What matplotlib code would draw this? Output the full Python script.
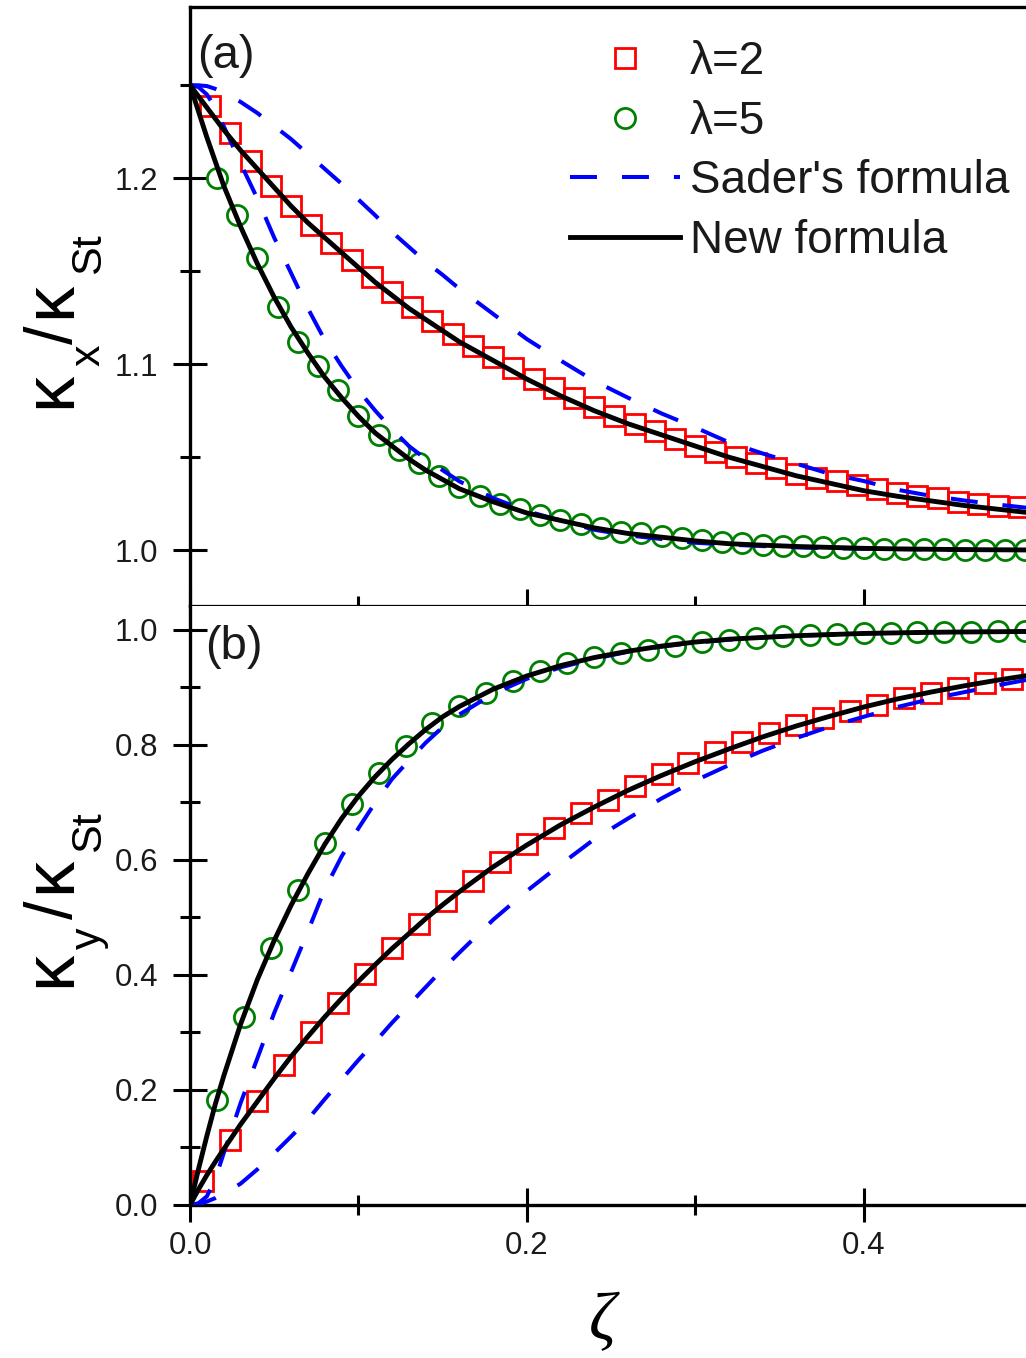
import matplotlib
matplotlib.use('Agg')
import matplotlib.pyplot as plt
from matplotlib.ticker import MultipleLocator

plt.rcParams['font.family'] = ['Liberation Sans', 'DejaVu Sans']

# ---------------- data: panel (a) kx/kSt ----------------
a_l2_zeta = [0.012, 0.024, 0.036, 0.048, 0.060, 0.072, 0.084, 0.096, 0.108, 0.120,
             0.132, 0.144, 0.156, 0.168, 0.180, 0.192, 0.204, 0.216, 0.228, 0.240,
             0.252, 0.264, 0.276, 0.288, 0.300, 0.312, 0.324, 0.336, 0.348, 0.360,
             0.372, 0.384, 0.396, 0.408, 0.420, 0.432, 0.444, 0.456, 0.468, 0.480, 0.492]
a_l2_sim = [1.239, 1.224, 1.209, 1.196, 1.185, 1.175, 1.165, 1.156, 1.147, 1.139,
            1.131, 1.123, 1.116, 1.110, 1.104, 1.098, 1.092, 1.087, 1.082, 1.077,
            1.072, 1.068, 1.064, 1.060, 1.056, 1.053, 1.050, 1.047, 1.044, 1.041,
            1.039, 1.037, 1.035, 1.033, 1.031, 1.029, 1.028, 1.026, 1.025, 1.024, 1.023]

a_l5_zeta = [0.016, 0.028, 0.040, 0.052, 0.064, 0.076, 0.088, 0.100, 0.112, 0.124,
             0.136, 0.148, 0.160, 0.172, 0.184, 0.196, 0.208, 0.220, 0.232, 0.244,
             0.256, 0.268, 0.280, 0.292, 0.304, 0.316, 0.328, 0.340, 0.352, 0.364,
             0.376, 0.388, 0.400, 0.412, 0.424, 0.436, 0.448, 0.460, 0.472, 0.484, 0.496]
a_l5_sim = [1.200, 1.180, 1.157, 1.131, 1.112, 1.099, 1.086, 1.072, 1.062, 1.054,
            1.047, 1.040, 1.034, 1.029, 1.025, 1.022, 1.019, 1.016, 1.014, 1.012,
            1.010, 1.009, 1.0075, 1.0065, 1.0055, 1.0045, 1.0038, 1.003, 1.0025, 1.002,
            1.0016, 1.0013, 1.001, 1.0008, 1.0006, 1.0005, 1.0004, 1.0003, 1.0002, 1.0002, 1.0001]

line_zeta = [0.0, 0.005, 0.01, 0.015, 0.02, 0.03, 0.04, 0.05, 0.06, 0.07, 0.08, 0.09,
             0.10, 0.11, 0.12, 0.13, 0.14, 0.15, 0.16, 0.18, 0.20, 0.22, 0.24, 0.26,
             0.28, 0.30, 0.32, 0.34, 0.36, 0.38, 0.40, 0.42, 0.44, 0.46, 0.48, 0.50]

a_l2_new = [1.25, 1.244, 1.238, 1.232, 1.226, 1.215, 1.205, 1.195, 1.185, 1.176, 1.168, 1.160,
            1.152, 1.144, 1.137, 1.130, 1.124, 1.118, 1.112, 1.102, 1.092, 1.083, 1.075, 1.068,
            1.062, 1.056, 1.050, 1.045, 1.040, 1.036, 1.032, 1.029, 1.0265, 1.024, 1.022, 1.020]
a_l5_new = [1.25, 1.236, 1.222, 1.209, 1.196, 1.174, 1.154, 1.136, 1.120, 1.106, 1.093, 1.082,
            1.072, 1.063, 1.056, 1.049, 1.043, 1.038, 1.033, 1.026, 1.020, 1.016, 1.012, 1.009,
            1.007, 1.005, 1.0035, 1.0027, 1.002, 1.0015, 1.001, 1.0007, 1.0005, 1.0003, 1.0002, 1.0001]
a_l2_sader = [1.25, 1.2499, 1.2495, 1.248, 1.246, 1.241, 1.235, 1.228, 1.221, 1.213, 1.205, 1.197,
              1.1885, 1.180, 1.171, 1.163, 1.155, 1.148, 1.1405, 1.127, 1.1135, 1.102, 1.091, 1.082,
              1.0735, 1.066, 1.058, 1.052, 1.0465, 1.041, 1.0372, 1.0325, 1.0292, 1.0267, 1.0245, 1.0225]
a_l5_sader = [1.25, 1.249, 1.245, 1.238, 1.228, 1.208, 1.189, 1.168, 1.149, 1.130, 1.113, 1.099,
              1.086, 1.075, 1.065, 1.056, 1.049, 1.043, 1.037, 1.028, 1.021, 1.016, 1.011, 1.008,
              1.006, 1.004, 1.003, 1.0022, 1.0015, 1.001, 1.0008, 1.0006, 1.0004, 1.0003, 1.0002, 1.0001]

# ---------------- data: panel (b) ky/kSt ----------------
b_l2_zeta = [0.008, 0.024, 0.040, 0.056, 0.072, 0.088, 0.104, 0.120, 0.136, 0.152,
             0.168, 0.184, 0.200, 0.216, 0.232, 0.248, 0.264, 0.280, 0.296, 0.312,
             0.328, 0.344, 0.360, 0.376, 0.392, 0.408, 0.424, 0.440, 0.456, 0.472, 0.488]
b_l2_sim = [0.042, 0.113, 0.180, 0.243, 0.301, 0.352, 0.401, 0.447, 0.489, 0.528,
            0.563, 0.597, 0.628, 0.656, 0.681, 0.705, 0.728, 0.749, 0.769, 0.788,
            0.805, 0.820, 0.834, 0.847, 0.859, 0.870, 0.881, 0.890, 0.899, 0.907, 0.914]

b_l5_zeta = [0.016, 0.032, 0.048, 0.064, 0.080, 0.096, 0.112, 0.128, 0.144, 0.160,
             0.176, 0.192, 0.208, 0.224, 0.240, 0.256, 0.272, 0.288, 0.304, 0.320,
             0.336, 0.352, 0.368, 0.384, 0.400, 0.416, 0.432, 0.448, 0.464, 0.480, 0.496]
b_l5_sim = [0.183, 0.327, 0.447, 0.547, 0.629, 0.697, 0.751, 0.798, 0.838, 0.867,
            0.891, 0.911, 0.929, 0.943, 0.953, 0.960, 0.966, 0.973, 0.979, 0.983,
            0.986, 0.989, 0.991, 0.993, 0.994, 0.995, 0.996, 0.997, 0.997, 0.998, 0.998]

b_l2_new = [0.0, 0.027, 0.052, 0.075, 0.097, 0.140, 0.180, 0.220, 0.258, 0.293, 0.327, 0.359,
            0.389, 0.418, 0.446, 0.472, 0.498, 0.522, 0.545, 0.588, 0.626, 0.661, 0.692, 0.721,
            0.747, 0.771, 0.793, 0.814, 0.833, 0.850, 0.866, 0.880, 0.892, 0.903, 0.913, 0.922]
b_l5_new = [0.0, 0.062, 0.120, 0.175, 0.224, 0.314, 0.392, 0.460, 0.521, 0.576, 0.627, 0.672,
            0.711, 0.745, 0.775, 0.802, 0.827, 0.849, 0.867, 0.897, 0.920, 0.938, 0.952, 0.963,
            0.972, 0.979, 0.984, 0.987, 0.990, 0.992, 0.994, 0.995, 0.996, 0.9965, 0.997, 0.9975]
b_l2_sader = [0.0, 0.0015, 0.006, 0.012, 0.020, 0.037, 0.062, 0.090, 0.119, 0.149, 0.184, 0.218,
              0.252, 0.284, 0.317, 0.348, 0.379, 0.410, 0.439, 0.496, 0.546, 0.592, 0.636, 0.672,
              0.707, 0.738, 0.765, 0.790, 0.812, 0.832, 0.849, 0.866, 0.880, 0.892, 0.904, 0.915]
b_l5_sader = [0.0, 0.003, 0.015, 0.045, 0.090, 0.177, 0.255, 0.334, 0.405, 0.476, 0.549, 0.606,
              0.655, 0.700, 0.741, 0.773, 0.804, 0.831, 0.853, 0.889, 0.915, 0.935, 0.950, 0.962,
              0.971, 0.978, 0.983, 0.987, 0.990, 0.992, 0.994, 0.995, 0.996, 0.9965, 0.997, 0.9975]

legend_labels = ['\u03bb=2', '\u03bb=5', "Sader's formula", 'New formula']

# ---------------- figure ----------------
W, H = 1026, 1358
fig = plt.figure(figsize=(W / 100, H / 100), dpi=100)


def fx(x):
    return x / W


def fy(y):
    return 1 - y / H


L, R = fx(190), fx(1032)
axa = fig.add_axes([L, fy(606), R - L, (606 - 7) / H])
axb = fig.add_axes([L, fy(1205), R - L, (1205 - 606) / H])

RED, GREEN, BLUE = '#ff0000', '#008000', '#0000ff'
sq = dict(marker='s', ms=14, mfc='none', mec=RED, mew=2.0, ls='none', zorder=2)
ci = dict(marker='o', ms=14.5, mfc='none', mec=GREEN, mew=2.0, ls='none', zorder=2)
dash = dict(color=BLUE, lw=2.9, ls=(0, (6.7, 6.2)), zorder=3)
solid = dict(color='black', lw=3.5, zorder=4)

# panel (a)
h1, = axa.plot(a_l2_zeta, a_l2_sim, **sq)
h2, = axa.plot(a_l5_zeta, a_l5_sim, **ci)
h3, = axa.plot(line_zeta, a_l2_sader, **dash)
axa.plot(line_zeta, a_l5_sader, **dash)
h4, = axa.plot(line_zeta, a_l2_new, **solid)
axa.plot(line_zeta, a_l5_new, **solid)

# panel (b)
axb.plot(b_l2_zeta, b_l2_sim, **sq)
axb.plot(b_l5_zeta, b_l5_sim, **ci)
axb.plot(line_zeta, b_l2_sader, **dash)
axb.plot(line_zeta, b_l5_sader, **dash)
axb.plot(line_zeta, b_l2_new, **solid)
axb.plot(line_zeta, b_l5_new, **solid)

axa.set_xlim(0, 0.5)
axb.set_xlim(0, 0.5)
axa.set_ylim(0.97, 1.292)
axb.set_ylim(0, 1.0417)

TXT = '#1a1a1a'
for ax in (axa, axb):
    ax.xaxis.set_major_locator(MultipleLocator(0.2))
    ax.xaxis.set_minor_locator(MultipleLocator(0.1))
    ax.tick_params(which='major', direction='inout', length=24.5, width=2.2,
                   labelsize=22.5, labelcolor=TXT, top=False, right=False)
    ax.tick_params(which='minor', direction='inout', length=13.7, width=2.2,
                   top=False, right=False)
    ax.tick_params(axis='y', which='major', pad=10.5)
    ax.tick_params(axis='x', which='major', pad=6.5)
    for s in ('left', 'bottom', 'top', 'right'):
        ax.spines[s].set_linewidth(2.4)

axa.yaxis.set_major_locator(MultipleLocator(0.1))
axa.yaxis.set_minor_locator(MultipleLocator(0.05))
axa.tick_params(axis='x', labelbottom=False)
axa.spines['bottom'].set_linewidth(1.6)
axb.yaxis.set_major_locator(MultipleLocator(0.2))
axb.yaxis.set_minor_locator(MultipleLocator(0.1))
axb.spines['top'].set_visible(False)
axa.yaxis.set_major_formatter(plt.FuncFormatter(lambda v, p: f'{v:.1f}'))
axb.yaxis.set_major_formatter(plt.FuncFormatter(lambda v, p: f'{v:.1f}'))
axb.xaxis.set_major_formatter(plt.FuncFormatter(lambda v, p: f'{v:.1f}'))

# legend
axa.legend([h1, h2, h3, h4], legend_labels, loc='upper left',
           bbox_to_anchor=(fx(570), fy(40)), bbox_transform=fig.transFigure,
           frameon=False, fontsize=33, handlelength=2.4, handletextpad=0.22,
           labelspacing=0.34, borderpad=0, borderaxespad=0, numpoints=1,
           labelcolor=TXT)

# panel letters
fig.text(fx(197), fy(68), '(a)', fontsize=34, color=TXT, ha='left', va='baseline')
fig.text(fx(205), fy(659), '(b)', fontsize=34, color=TXT, ha='left', va='baseline')

# y labels built from pieces (rotated)
def rot_piece(txt, x, y, size):
    fig.text(fx(x), fy(y), txt, rotation=90, rotation_mode='anchor',
             ha='left', va='baseline', fontsize=size, color='black')


for t, x, y, s in [('\u03ba', 70, 408, 52), ('x', 100, 366, 31), ('/', 72, 344, 48),
                   ('\u03ba', 70, 318, 52), ('St', 100, 274, 31)]:
    rot_piece(t, x, y, s)
for t, x, y, s in [('\u03ba', 70, 987, 52), ('y', 100, 949, 31), ('/', 72, 919, 48),
                   ('\u03ba', 70, 893, 52), ('St', 100, 852, 31)]:
    rot_piece(t, x, y, s)

# x label
fig.text(fx(602), fy(1339), '\u03b6', fontfamily='Liberation Serif', style='italic',
         fontsize=48, color='black', ha='center', va='baseline')

fig.savefig('out.png', dpi=100)
